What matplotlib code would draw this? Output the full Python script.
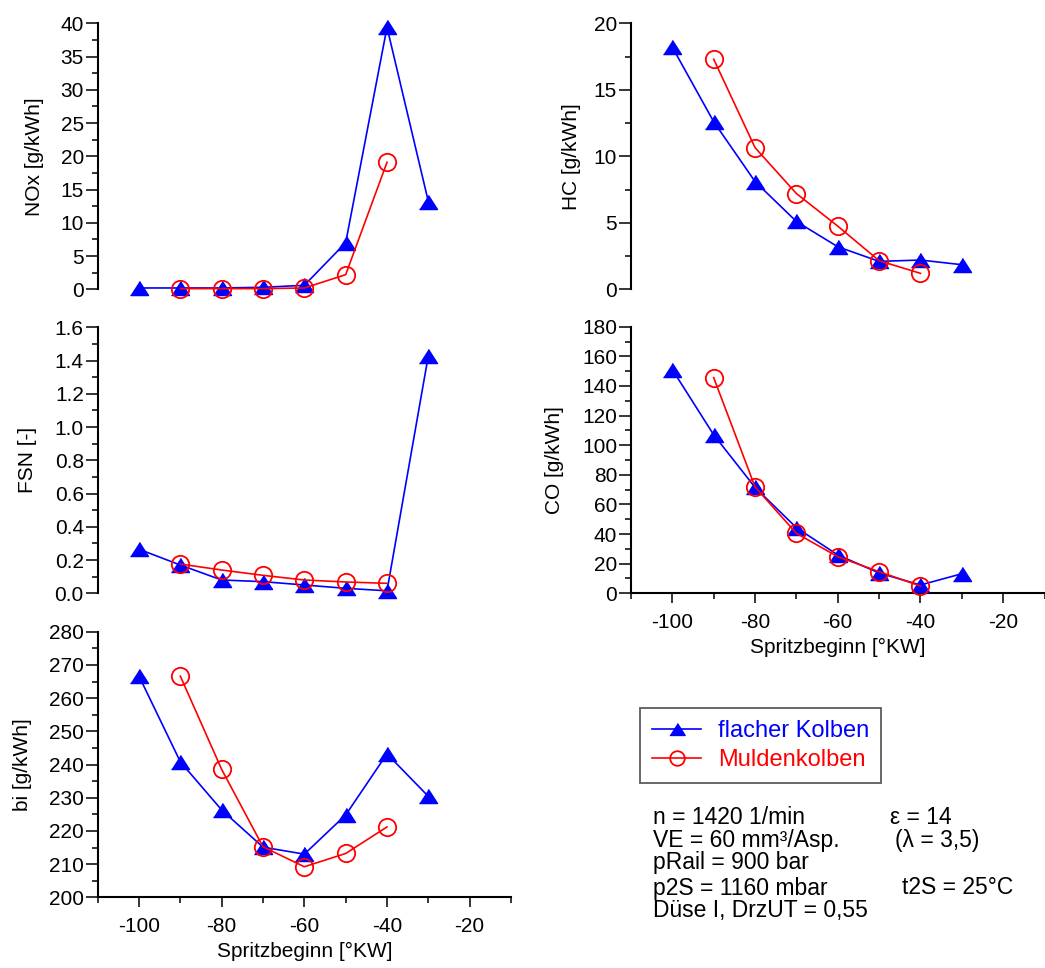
import matplotlib
matplotlib.use('Agg')
import matplotlib.pyplot as plt
from matplotlib.ticker import MultipleLocator, FormatStrFormatter
from matplotlib.lines import Line2D

plt.rcParams['font.family'] = ['Liberation Sans', 'DejaVu Sans']
plt.rcParams['axes.unicode_minus'] = False

# Daten
spritz_flach = [-100, -90, -80, -70, -60, -50, -40, -30]
spritz_mulde = [-90, -80, -70, -60, -50, -40]

nox_flach = [0.2, 0.2, 0.2, 0.3, 0.6, 7.0, 39.4, 13.2]
nox_mulde = [0.1, 0.1, 0.1, 0.2, 2.2, 19.1]
hc_flach = [18.2, 12.6, 8.1, 5.1, 3.2, 2.1, 2.2, 1.85]
hc_mulde = [17.3, 10.65, 7.2, 4.75, 2.15, 1.2]
fsn_flach = [0.265, 0.17, 0.08, 0.07, 0.05, 0.03, 0.015, 1.43]
fsn_mulde = [0.176, 0.14, 0.108, 0.08, 0.068, 0.06]
co_flach = [151, 107, 71.5, 44.3, 25.9, 13.7, 5.6, 13.2]
co_mulde = [145.6, 71.8, 40.5, 24.7, 14.6, 4.9]
bi_flach = [266.6, 240.8, 226.3, 215.1, 213.0, 224.8, 243.2, 230.4]
bi_mulde = [266.6, 238.5, 215.2, 209.2, 213.2, 221.2]

info_links = ['n = 1420 1/min', 'VE = 60 mm³/Asp.', 'pRail = 900 bar',
              'p2S = 1160 mbar', 'Düse I, DrzUT = 0,55']
info_rechts = ['ε = 14', '(λ = 3,5)', None, 't2S = 25°C', None]

W, H = 1045, 968
BLUE = '#0000FF'
RED = '#FF0000'
FS = 15

# flaches Dreieck (breiter als hoch)
TRI = [(-1, -0.78), (1, -0.78), (0, 0.78)]

fig = plt.figure(figsize=(W / 100, H / 100), dpi=100)
fig.patch.set_facecolor('white')


def add_panel(left, top, right, bottom):
    return fig.add_axes([left / W, 1 - bottom / H, (right - left) / W, (bottom - top) / H])


def style_panel(ax, ylim, major, minor, ylabel, label_x, show_x, fmt=None):
    ax.set_xlim(-110, -10)
    ax.set_ylim(*ylim)
    ax.yaxis.set_major_locator(MultipleLocator(major))
    ax.yaxis.set_minor_locator(MultipleLocator(minor))
    if fmt:
        ax.yaxis.set_major_formatter(FormatStrFormatter(fmt))
    ax.spines['top'].set_visible(False)
    ax.spines['right'].set_visible(False)
    ax.spines['left'].set_linewidth(1.5)
    ax.spines['bottom'].set_linewidth(1.5)
    ax.tick_params(axis='y', which='major', length=9, width=1.1, pad=1, labelsize=FS)
    ax.tick_params(axis='y', which='minor', length=4.5, width=1.1)
    if show_x:
        ax.xaxis.set_major_locator(MultipleLocator(20))
        ax.xaxis.set_minor_locator(MultipleLocator(10))
        ax.tick_params(axis='x', which='major', length=7.5, width=1.1, pad=7, labelsize=FS)
        ax.tick_params(axis='x', which='minor', length=4.5, width=1.1)
        ax.set_xlabel('Spritzbeginn [°KW]', fontsize=FS, labelpad=4)
    else:
        ax.spines['bottom'].set_visible(False)
        ax.set_xticks([])
    ax.set_ylabel(ylabel, fontsize=FS)
    ax.yaxis.label.set_verticalalignment('center')
    ax.yaxis.set_label_coords(label_x, 0.5)


def draw_series(ax, yf, ym):
    ax.plot(spritz_flach, yf, color=BLUE, lw=1.2, marker=TRI, ms=13,
            mfc=BLUE, mec=BLUE, clip_on=False, zorder=3)
    ax.plot(spritz_mulde, ym, color=RED, lw=1.2, marker='o', ms=12.5,
            mfc='none', mec=RED, mew=1.3, clip_on=False, zorder=4)


ax_nox = add_panel(97.7, 23.3, 511, 289.3)
draw_series(ax_nox, nox_flach, nox_mulde)
style_panel(ax_nox, (0, 40), 5, 2.5, 'NOx [g/kWh]', -0.152, False)

ax_fsn = add_panel(97.7, 327.3, 511, 593.3)
draw_series(ax_fsn, fsn_flach, fsn_mulde)
style_panel(ax_fsn, (0, 1.6), 0.2, 0.1, 'FSN [-]', -0.169, False, '%.1f')

ax_bi = add_panel(97.7, 631.7, 511, 897.3)
draw_series(ax_bi, bi_flach, bi_mulde)
style_panel(ax_bi, (200, 280), 10, 5, 'bi [g/kWh]', -0.181, True)

ax_hc = add_panel(631, 23.3, 1044.5, 289.3)
draw_series(ax_hc, hc_flach, hc_mulde)
style_panel(ax_hc, (0, 20), 5, 2.5, 'HC [g/kWh]', -0.1436, False)

ax_co = add_panel(631, 326.7, 1044.5, 593.3)
draw_series(ax_co, co_flach, co_mulde)
style_panel(ax_co, (0, 180), 20, 10, 'CO [g/kWh]', -0.184, True)

# Legende
handles = [
    Line2D([], [], color=BLUE, lw=1.2, marker=TRI, ms=11, mfc=BLUE, mec=BLUE),
    Line2D([], [], color=RED, lw=1.2, marker='o', ms=10.5, mfc='none', mec=RED, mew=1.3),
]
leg = fig.legend(handles, ['flacher Kolben', 'Muldenkolben'],
                 loc='upper left', bbox_to_anchor=(640 / W, 1 - 708 / H),
                 borderaxespad=0, fontsize=17,
                 handlelength=2.1, handletextpad=0.7, borderpad=0.5,
                 labelspacing=0.3, fancybox=False, frameon=True,
                 labelcolor='linecolor')
leg.get_frame().set_edgecolor('#333333')
leg.get_frame().set_linewidth(1.3)

# Betriebspunkt
info_y = [818, 840, 863, 888, 911]
info_rx = [890, 895, None, 902, None]
for txt, txt_r, yc, xr in zip(info_links, info_rechts, info_y, info_rx):
    fig.text(653 / W, 1 - yc / H, txt, fontsize=16.5, va='center', ha='left')
    if txt_r:
        fig.text(xr / W, 1 - yc / H, txt_r, fontsize=16.5, va='center', ha='left')

fig.savefig('out.png', dpi=100, facecolor='white')
